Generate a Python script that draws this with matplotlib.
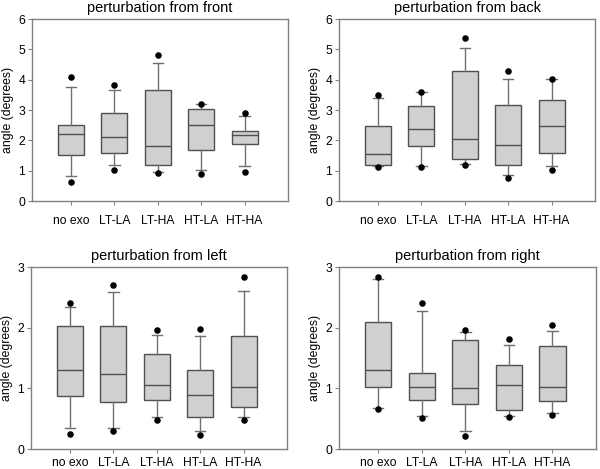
import matplotlib
matplotlib.use('Agg')
import matplotlib.pyplot as plt

plt.rcParams['font.family'] = ['Liberation Sans', 'DejaVu Sans']

# 조건 / 패널
groups = ['no exo', 'LT-LA', 'LT-HA', 'HT-LA', 'HT-HA']
titles = ['perturbation from front', 'perturbation from back',
          'perturbation from left', 'perturbation from right']
ymax = [6, 6, 3, 3]

# 패널별 통계값 (front, back, left, right)
p5 = [[0.61, 1.03, 0.93, 0.90, 0.96],
      [1.13, 1.11, 1.20, 0.76, 1.03],
      [0.25, 0.30, 0.48, 0.23, 0.48],
      [0.66, 0.51, 0.22, 0.53, 0.56]]
p10 = [[0.82, 1.19, 0.94, 1.01, 1.14],
       [1.16, 1.15, 1.22, 0.87, 1.15],
       [0.35, 0.35, 0.52, 0.29, 0.52],
       [0.67, 0.54, 0.29, 0.54, 0.60]]
q1 = [[1.52, 1.58, 1.18, 1.68, 1.87],
      [1.20, 1.81, 1.37, 1.20, 1.57],
      [0.87, 0.78, 0.80, 0.52, 0.69],
      [1.03, 0.80, 0.75, 0.64, 0.79]]
med = [[2.20, 2.10, 1.82, 2.49, 2.17],
       [1.54, 2.37, 2.05, 1.85, 2.46],
       [1.30, 1.24, 1.06, 0.89, 1.03],
       [1.31, 1.02, 1.00, 1.05, 1.03]]
q3 = [[2.50, 2.89, 3.66, 3.04, 2.31],
      [2.46, 3.14, 4.27, 3.18, 3.33],
      [2.02, 2.02, 1.57, 1.30, 1.87],
      [2.10, 1.26, 1.79, 1.39, 1.70]]
p90 = [[3.77, 3.66, 4.55, 3.19, 2.80],
       [3.41, 3.60, 5.06, 4.03, 4.01],
       [2.34, 2.58, 1.88, 1.87, 2.60],
       [2.80, 2.28, 1.93, 1.71, 1.95]]
p95 = [[4.10, 3.81, 4.80, 3.21, 2.91],
       [3.50, 3.60, 5.38, 4.27, 4.01],
       [2.40, 2.70, 1.96, 1.98, 2.83],
       [2.83, 2.40, 1.96, 1.82, 2.04]]

fig = plt.figure(figsize=(6.0, 4.69), dpi=100)
W, H = 600, 469
# 축 위치 (픽셀 기준)
boxes = [(32, 19, 288, 201), (339, 19, 595, 201),
         (31, 267, 287, 449), (339, 267, 596, 449)]
xpads = [7, 7, 3, 3]

edge = '#505050'
lgray = '#808080'

for i, (x0, y0, x1, y1) in enumerate(boxes):
    ax = fig.add_axes([x0 / W, 1 - y1 / H, (x1 - x0) / W, (y1 - y0) / H])
    stats = []
    for j, g in enumerate(groups):
        stats.append(dict(label=g, whislo=p10[i][j], q1=q1[i][j], med=med[i][j],
                          q3=q3[i][j], whishi=p90[i][j],
                          fliers=[p5[i][j], p95[i][j]]))
    ax.bxp(stats, positions=range(1, 6), widths=0.6, capwidths=0.24,
           patch_artist=True, showfliers=True,
           boxprops=dict(facecolor='#d0d0d0', edgecolor=edge, linewidth=1.0),
           medianprops=dict(color=edge, linewidth=1.0),
           whiskerprops=dict(color='#707070', linewidth=1.0),
           capprops=dict(color='#707070', linewidth=1.0),
           flierprops=dict(marker='o', markerfacecolor='black',
                           markeredgecolor='black', markersize=3.7))
    ax.set_xlim(0.1, 6.0)
    ax.set_ylim(0, ymax[i])
    ax.set_yticks(range(0, ymax[i] + 1))
    ax.set_xticks(range(1, 6))
    ax.set_xticklabels(groups)
    ax.tick_params(axis='both', labelsize=8.7, direction='out', length=3,
                   width=0.8, color=lgray, pad=2)
    ax.tick_params(axis='x', pad=xpads[i])
    for s in ax.spines.values():
        s.set_color(lgray)
        s.set_linewidth(1.0)
    ax.set_ylabel('angle (degrees)', fontsize=8.8, labelpad=3)
    ax.set_title(titles[i], fontsize=10.5, pad=5)

fig.savefig('out.png', dpi=100)
